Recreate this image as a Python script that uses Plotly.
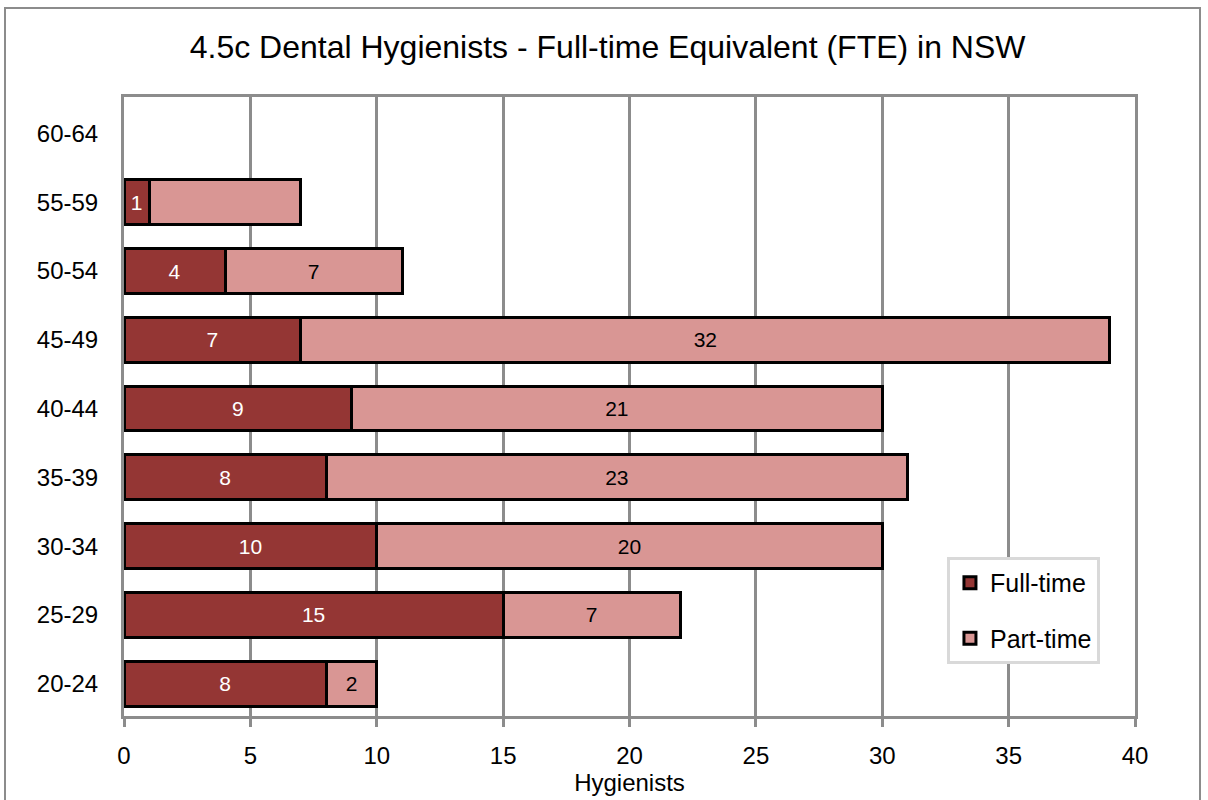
import plotly.graph_objects as go

age_groups = ["20-24", "25-29", "30-34", "35-39", "40-44", "45-49", "50-54", "55-59", "60-64"]
full_time = [8, 15, 10, 8, 9, 7, 4, 1, 0]
part_time = [2, 7, 20, 23, 21, 32, 7, 6, 0]
# the part-time label is not printed for 55-59 in the original
part_time_labelled = [True, True, True, True, True, True, True, False, False]
x_ticks = [0, 5, 10, 15, 20, 25, 30, 35, 40]

font = "Liberation Sans, Arial, sans-serif"

ft_text = [str(v) if v else "" for v in full_time]
pt_text = [str(v) if show else "" for v, show in zip(part_time, part_time_labelled)]

fig = go.Figure()
fig.add_trace(go.Bar(
    y=age_groups, x=full_time, name="Full-time", orientation="h",
    marker=dict(color="#943634", line=dict(color="black", width=[3 if v else 0 for v in full_time])),
    text=ft_text, textposition="inside", insidetextanchor="middle",
    textangle=0, constraintext="none",
    textfont=dict(color="white", size=21, family=font),
    legendgroup="ft",
))
fig.add_trace(go.Bar(
    y=age_groups, x=part_time, name="Part-time", orientation="h",
    marker=dict(color="#D99694", line=dict(color="black", width=[3 if v else 0 for v in part_time])),
    text=pt_text, textposition="inside", insidetextanchor="middle",
    textangle=0, constraintext="none",
    textfont=dict(color="black", size=21, family=font),
    legendgroup="pt",
))

fig.update_layout(
    barmode="stack",
    bargap=0.35,
    width=1208, height=800,
    margin=dict(l=124, r=73, t=97, b=84),
    paper_bgcolor="white", plot_bgcolor="white",
    font=dict(family=font, size=24, color="black"),
    title=dict(text="4.5c Dental Hygienists - Full-time Equivalent (FTE) in NSW",
               x=0.503, xanchor="center", y=0.941, yanchor="middle",
               font=dict(size=32, family=font, color="black")),
    legend=dict(x=0.814, y=0.257, xanchor="left", yanchor="top",
                bgcolor="white", bordercolor="#d9d9d9", borderwidth=3,
                font=dict(size=25, family=font), traceorder="grouped",
                tracegroupgap=20, itemwidth=30),
    showlegend=True,
)

fig.update_xaxes(
    range=[0, 40], tickvals=x_ticks, ticktext=[str(t) for t in x_ticks],
    showgrid=True, gridcolor="#8c8c8c", gridwidth=3,
    showline=True, linecolor="#8c8c8c", linewidth=3, mirror=True,
    ticks="outside", ticklen=8, tickwidth=3, tickcolor="#8c8c8c",
    tickfont=dict(size=24), ticklabelstandoff=8,
    title=dict(text="Hygienists", font=dict(size=24), standoff=6),
    zeroline=False, automargin=False,
)
fig.update_yaxes(
    categoryorder="array", categoryarray=age_groups, range=[-0.47, 8.53],
    showgrid=False, showline=True, linecolor="#8c8c8c", linewidth=3, mirror=True,
    ticks="", tickfont=dict(size=24), ticklabelstandoff=18, automargin=False,
)

# outer chart frame
fig.add_shape(type="rect", xref="paper", yref="paper",
              x0=(5 - 124) / 1011, x1=(1200 - 124) / 1011, y0=-0.2, y1=(716 - 8) / 619,
              line=dict(color="#8c8c8c", width=2), fillcolor="rgba(0,0,0,0)", layer="below")

fig.write_html("out.html", config={"displayModeBar": False},
               post_script="document.body.style.margin='0';")
